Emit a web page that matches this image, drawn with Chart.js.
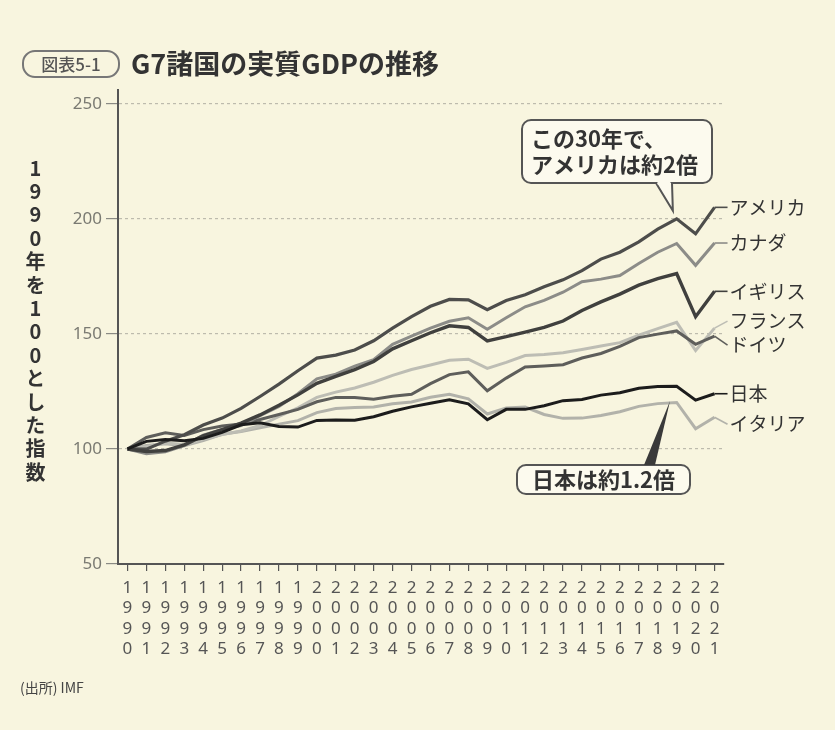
<!DOCTYPE html>
<html lang="ja">
<head>
<meta charset="utf-8">
<title>G7諸国の実質GDPの推移</title>
<script src="https://cdn.jsdelivr.net/npm/chart.js@4/dist/chart.umd.min.js"></script>
<style>
  html, body { margin: 0; padding: 0; background: #f8f5df; }
  #wrap { position: relative; width: 835px; height: 730px; font-family: 'Noto Sans CJK JP', 'Noto Sans', sans-serif; color: #333; }
  #wrap canvas { position: absolute; left: 0; top: 0; }
  .tag { position: absolute; left: 22px; top: 50px; width: 94px; height: 24px; border: 2px solid #777; border-radius: 13px;
         font-size: 17px; line-height: 24px; text-align: center; color: #555; font-weight: 500; }
  .title { position: absolute; left: 131px; top: 44px; font-size: 27px; font-weight: 700; line-height: 38px; color: #333; white-space: nowrap; }
  .ytitle { position: absolute; left: 23px; top: 158px; writing-mode: vertical-rl; text-orientation: upright;
            font-size: 20px; font-weight: 700; letter-spacing: 3.4px; line-height: 24px; color: #333; }
  .source { position: absolute; left: 20px; top: 677px; font-size: 14px; color: #444; }
</style>
</head>
<body>
<div id="wrap">
  <canvas id="gdp" width="835" height="730"></canvas>
  <div class="tag">図表5-1</div>
  <div class="title">G7諸国の実質GDPの推移</div>
  <div class="ytitle">1990年を100とした指数</div>
  <div class="source">(出所) IMF</div>
</div>
<script>
// 1990 = 100
const years = ['1990','1991','1992','1993','1994','1995','1996','1997','1998','1999',
  '2000','2001','2002','2003','2004','2005','2006','2007','2008','2009',
  '2010','2011','2012','2013','2014','2015','2016','2017','2018','2019','2020','2021'];

const usa     = [100, 99.9, 103.4, 106.2, 110.4, 113.4, 117.6, 122.8, 128.2, 134, 139.5, 140.8, 143, 147, 152.5, 157.5,
                 162, 165, 164.8, 160.5, 164.5, 167, 170.5, 173.5, 177.5, 182.5, 185.5, 190, 195.5, 200, 193.5, 205];
const canada  = [100, 97.9, 98.8, 101.5, 106, 108.5, 110.2, 114.5, 118.5, 124, 130.5, 132.5, 136, 138.8, 145.5, 149,
                 152.5, 155.5, 157, 152, 157, 161.8, 164.6, 168.1, 172.7, 173.8, 175.4, 180.6, 185.5, 189.3, 179.8, 189.5];
const uk      = [100, 98.9, 99.3, 101.8, 105.7, 108.4, 111.2, 114.8, 119, 123.5, 128.5, 131.5, 134.5, 138, 143.5, 147,
                 150.5, 153.5, 152.8, 147, 148.8, 150.8, 152.8, 155.6, 160.2, 163.9, 167.3, 171.2, 174, 176.2, 157.5, 168.5];
const france  = [100, 101, 102.6, 101.9, 104.2, 106.3, 107.8, 110.2, 114.1, 117.9, 122.4, 124.7, 126.5, 129, 132, 134.5,
                 136.5, 138.5, 139, 135, 137.6, 140.6, 141, 141.8, 143.2, 144.7, 146.2, 149.5, 152.3, 155, 142.8, 152.5];
const germany = [100, 105, 107, 105.9, 108.4, 110, 110.8, 112.8, 115, 117.2, 120.5, 122.4, 122.4, 121.6, 122.9, 123.8,
                 128.4, 132.3, 133.5, 125.3, 130.8, 135.6, 136.1, 136.6, 139.5, 141.5, 144.6, 148.4, 149.9, 151.3, 145.5, 149];
const japan   = [100, 103.3, 104.1, 103.6, 104.6, 107.2, 110.5, 111.4, 109.8, 109.5, 112.4, 112.6, 112.5, 114, 116.4, 118.3,
                 119.9, 121.4, 119.6, 112.7, 117.2, 117.2, 118.8, 121, 121.5, 123.4, 124.4, 126.4, 127.1, 127.2, 121.2, 124];
const italy   = [100, 101.5, 102.3, 101.4, 103.6, 106.4, 107.6, 109.2, 110.8, 112.3, 115.8, 117.6, 118, 118.2, 119.6, 120.4,
                 122.5, 123.8, 121.8, 115.2, 117.8, 118.2, 115, 113.3, 113.4, 114.5, 116.2, 118.5, 119.7, 120.2, 108.8, 113.8];

const yTicks = [50, 100, 150, 200, 250];

const series = [
  { label: 'アメリカ', data: usa,     color: '#4d4d4b', width: 3.2, shift: 0,  order: 3 },
  { label: 'カナダ',   data: canada,  color: '#8c8c88', width: 3,   shift: 0,  order: 4 },
  { label: 'イギリス', data: uk,      color: '#40403e', width: 3.4, shift: 0,  order: 2 },
  { label: 'フランス', data: france,  color: '#bdbdb4', width: 3,   shift: -7, order: 6 },
  { label: 'ドイツ',   data: germany, color: '#5e5e5b', width: 3,   shift: 9,  order: 5 },
  { label: '日本',     data: japan,   color: '#1c1c1c', width: 3,   shift: 0,  order: 1 },
  { label: 'イタリア', data: italy,   color: '#b2b2aa', width: 3,   shift: 7,  order: 7 }
];

const notes = [
  { lines: ['この30年で、', 'アメリカは約2倍'], box: [522, 120, 190, 63], align: 'left',
    base: [656, 672], tip: [28.8, 203.5], wedge: 'open' },
  { lines: ['日本は約1.2倍'], box: [517, 465, 173, 29], align: 'center',
    base: [644, 655], tip: [28.65, 120.8], wedge: 'solid' }
];

const endLabels = {
  id: 'endLabels',
  afterDatasetsDraw(chart) {
    const ctx = chart.ctx;
    ctx.save();
    ctx.font = '19px "Noto Sans CJK JP"';
    ctx.textBaseline = 'middle';
    ctx.textAlign = 'left';
    chart.data.datasets.forEach((ds, i) => {
      const pts = chart.getDatasetMeta(i).data;
      const p = pts[pts.length - 1];
      const ly = p.y + series[i].shift;
      ctx.strokeStyle = ds.borderColor;
      ctx.lineWidth = 1.6;
      ctx.beginPath();
      ctx.moveTo(p.x, p.y);
      ctx.lineTo(p.x + 13, ly);
      ctx.stroke();
      ctx.fillStyle = '#333';
      ctx.fillText(ds.label, p.x + 15, ly);
    });
    ctx.restore();
  }
};

const calloutBoxes = {
  id: 'calloutBoxes',
  afterDraw(chart) {
    const ctx = chart.ctx;
    const xs = chart.scales.x, ys = chart.scales.y;
    ctx.save();
    notes.forEach(n => {
      const [bx, by, bw, bh] = n.box;
      const tx = xs.getPixelForValue(n.tip[0]);
      const ty = ys.getPixelForValue(n.tip[1]);
      const edge = ty > by ? by + bh : by;
      ctx.beginPath();
      ctx.roundRect(bx, by, bw, bh, 9);
      ctx.fillStyle = '#fcfaee';
      ctx.fill();
      ctx.lineWidth = 2;
      ctx.strokeStyle = '#555';
      ctx.stroke();
      // pointer
      ctx.beginPath();
      ctx.moveTo(n.base[0], edge);
      ctx.lineTo(tx, ty);
      ctx.lineTo(n.base[1], edge);
      if (n.wedge === 'solid') {
        ctx.closePath();
        ctx.fillStyle = '#3a3a3a';
        ctx.fill();
      } else {
        ctx.fillStyle = '#fcfaee';
        ctx.fill();
        ctx.stroke();
        ctx.beginPath();
        ctx.moveTo(n.base[0] + 1.5, edge);
        ctx.lineTo(n.base[1] - 1.5, edge);
        ctx.strokeStyle = '#fcfaee';
        ctx.lineWidth = 3;
        ctx.stroke();
      }
      ctx.fillStyle = '#333';
      ctx.font = 'bold 22px "Noto Sans CJK JP"';
      ctx.textBaseline = 'middle';
      const lh = 26;
      const y0 = by + bh / 2 - (n.lines.length - 1) * lh / 2;
      n.lines.forEach((t, k) => {
        if (n.align === 'center') {
          ctx.textAlign = 'center';
          ctx.fillText(t, bx + bw / 2, y0 + k * lh);
        } else {
          ctx.textAlign = 'left';
          ctx.fillText(t, bx + 9, y0 + k * lh);
        }
      });
    });
    ctx.restore();
  }
};

new Chart(document.getElementById('gdp'), {
  type: 'line',
  data: {
    labels: years,
    datasets: series.map(s => ({
      label: s.label,
      data: s.data,
      borderColor: s.color,
      borderWidth: s.width,
      pointRadius: 0,
      tension: 0,
      order: s.order
    }))
  },
  options: {
    responsive: false,
    animation: false,
    layout: { padding: { left: 0, right: 111, top: 90, bottom: 66 } },
    plugins: { legend: { display: false }, tooltip: { enabled: false } },
    scales: {
      x: {
        offset: true,
        afterFit: s => { s.height = 100; },
        border: { display: true, color: '#555', width: 2 },
        grid: { offset: false, drawOnChartArea: false, tickLength: 7, tickColor: '#555', lineWidth: 1.2 },
        ticks: {
          autoSkip: false, maxRotation: 0, padding: 7, color: '#555',
          font: { family: 'Noto Sans', size: 17, lineHeight: 1.2 },
          callback: function (v) { return this.getLabelForValue(v).split(''); }
        }
      },
      y: {
        min: 50,
        max: 256,
        afterFit: s => { s.width = 118; },
        afterBuildTicks: s => { s.ticks = yTicks.map(v => ({ value: v })); },
        border: { display: true, color: '#555', width: 2, dash: [3, 3] },
        grid: {
          color: c => (c.tick && c.tick.value === 50 ? 'rgba(0,0,0,0)' : '#bdbbad'),
          tickBorderDash: [],
          tickColor: '#8a8a84',
          tickLength: 12,
          lineWidth: 1.2
        },
        ticks: { padding: 4, color: '#7a7a72', font: { family: 'Noto Sans', size: 17 } }
      }
    }
  },
  plugins: [endLabels, calloutBoxes]
});
</script>
</body>
</html>
